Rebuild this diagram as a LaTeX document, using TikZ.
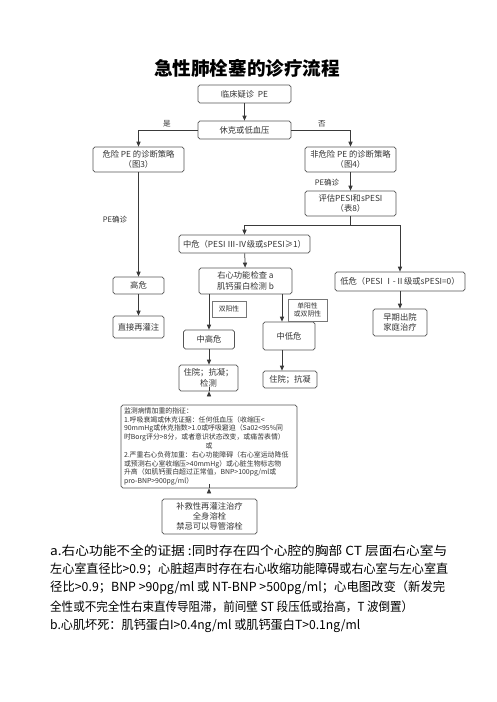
\documentclass[tikz,border=0pt]{standalone}
\usepackage{fontspec}
\usepackage{graphicx}
\setmainfont{Noto Sans CJK SC}
\usetikzlibrary{arrows.meta}
\definecolor{boxc}{HTML}{555555}
\definecolor{linec}{HTML}{3A3A3A}
\definecolor{txtc}{HTML}{333333}
\begin{document}
\begin{tikzpicture}[x=1pt,y=-1pt,
  box/.style={draw=boxc, line width=0.75pt, rounded corners=1.8pt, fill=white, text=txtc,
    font=\fontsize{8.3}{10.5}\selectfont, align=center, inner sep=0pt},
  lbox/.style={draw=boxc!80, line width=0.5pt, fill=white, text=txtc,
    font=\fontsize{6.8}{8.5}\selectfont, align=center, inner sep=0pt},
  lbl/.style={text=txtc, font=\fontsize{7.6}{9}\selectfont, inner sep=0pt},
  arr/.style={draw=linec, line width=0.75pt, -{Triangle[length=5pt,width=4.2pt]}},
  ln/.style={draw=linec, line width=0.75pt},
  note/.style={anchor=west, text=black, font=\fontsize{12.5}{14}\selectfont, inner sep=0pt}]
\useasboundingbox (0,0) rectangle (496,702);
\fill[white] (0,0) rectangle (496,702);

\node[text=black, font=\fontsize{18.6}{20}\selectfont\bfseries, inner sep=0pt] (title) at (247,68) {急性肺栓塞的诊疗流程};

\node[box, minimum width=93pt, minimum height=18pt] (n1) at (244.5,94) {临床疑诊\ \ PE};
\node[box, minimum width=93pt, minimum height=18pt] (n2) at (244.5,130) {休克或低血压};
\node[box, minimum width=91pt, minimum height=25pt] (n3) at (138.5,159.5) {危险 PE 的诊断策略\\（图3）};
\node[box, minimum width=91pt, minimum height=25pt] (n4) at (350.5,159.5) {非危险 PE 的诊断策略\\（图4）};
\node[box, minimum width=91pt, minimum height=25pt] (n5) at (350.5,203.5) {评估PESI和sPESI\\（表8）};
\node[box, minimum width=131pt, minimum height=18pt] (n6) at (244.5,244) {中危（PESI Ⅲ-Ⅳ级或sPESI≥1）};
\node[box, minimum width=93pt, minimum height=26pt] (n7) at (245.5,281) {右心功能检查 a\\肌钙蛋白检测 b};
\node[box, minimum width=51pt, minimum height=17pt] (n8) at (138.5,285.5) {高危};
\node[box, minimum width=51pt, minimum height=22pt] (n9) at (138.5,327) {直接再灌注};
\node[box, minimum width=51pt, minimum height=19pt] (n10) at (209,339.5) {中高危};
\node[box, minimum width=52pt, minimum height=28pt] (n11) at (289,336) {中低危};
\node[box, minimum width=59pt, minimum height=26pt] (n12) at (208.5,378) {住院；抗凝；\\检测};
\node[box, minimum width=54pt, minimum height=17pt] (n13) at (290,379.5) {住院；抗凝};
\node[box, minimum width=176pt, minimum height=83pt, align=left, text width=170pt,
  font=\fontsize{6.9}{8.8}\selectfont] (n14) at (209,446.5) {监测病情加重的指征：\\
1.呼吸衰竭或休克证据：任何低血压（收缩压<\\
90mmHg或休克指数>1.0或呼吸窘迫（Sa02<95\%同\\
时Borg评分>8分，或者意识状态改变，或痛苦表情）\\
\makebox[170pt]{或}\\
2.严重右心负荷加重：右心功能障碍（右心室运动降低\\
或预测右心室收缩压>40mmHg）或心脏生物标志物\\
升高（如肌钙蛋白超过正常值，BNP>100pg/ml或\\
pro-BNP>900pg/ml）};
\node[box, minimum width=95pt, minimum height=35pt, font=\fontsize{8.3}{10}\selectfont] (n15) at (209.5,516.5) {补救性再灌注治疗\\全身溶栓\\禁忌可以导管溶栓};
\node[box, minimum width=130pt, minimum height=19pt] (n16) at (400,281.5) {低危（PESI Ⅰ-Ⅱ级或sPESI=0）};
\node[box, minimum width=54pt, minimum height=27pt] (n17) at (400,322.5) {早期出院\\家庭治疗};

\node[lbox, minimum width=34pt, minimum height=16pt] (l1) at (229,309) {双阳性};
\node[lbox, minimum width=39pt, minimum height=22pt] (l2) at (307.5,310) {单阳性\\或双阴性};

\node[lbl] (yes) at (167,124) {是};
\node[lbl] (no) at (322,124) {否};
\node[lbl] (pe1) at (115,220) {PE确诊};
\node[lbl] (pe2) at (327,183) {PE确诊};

\draw[arr] (n1) -- (n2);
\draw[arr] (n2.west) -| (n3.north);
\draw[arr] (n2.east) -| (n4.north);
\draw[arr] (n3) -- (n8);
\draw[arr] (n4) -- (n5);
\coordinate (j) at (350.5,225);
\draw[ln] (n5.south) -- (j);
\draw[arr] (j) -| (n6.north);
\draw[arr] (j) -| (n16.north);
\draw[arr] (n6) -- (n7);
\draw[arr] (n10.north |- n7.south) -- (n10.north);
\draw[arr] ([xshift=-7pt]n11.north |- n7.south) -- ([xshift=-7pt]n11.north);
\draw[arr] (n8) -- (n9);
\draw[arr] (n10.south) -- (n10.south |- n12.north);
\draw[arr] ([xshift=-7pt]n11.south) -- ([xshift=-7pt]n11.south |- n13.north);
\draw[arr] (n12.south -| n10.south) -- (n12.south -| n10.south |- n14.north);
\draw[arr] (n14.south -| n10.south) -- (n14.south -| n10.south |- n15.north);
\draw[arr] (n16) -- (n17);

\node[note] (t1) at (50,551) {\resizebox{397pt}{\height}{a.右心功能不全的证据 :同时存在四个心腔的胸部 CT 层面右心室与}};
\node[note] (t2) at (50,569.5) {\resizebox{398pt}{\height}{左心室直径比>0.9；心脏超声时存在右心收缩功能障碍或右心室与左心室直}};
\node[note] (t3) at (50,588) {\resizebox{395pt}{\height}{径比>0.9；BNP >90pg/ml 或 NT-BNP >500pg/ml；心电图改变（新发完}};
\node[note] (t4) at (50,607) {\resizebox{363pt}{\height}{全性或不完全性右束直传导阻滞，前间壁 ST 段压低或抬高，T 波倒置）}};
\node[note] (t5) at (50,626) {\resizebox{310pt}{\height}{b.心肌坏死：肌钙蛋白I>0.4ng/ml 或肌钙蛋白T>0.1ng/ml}};
\end{tikzpicture}
\end{document}
